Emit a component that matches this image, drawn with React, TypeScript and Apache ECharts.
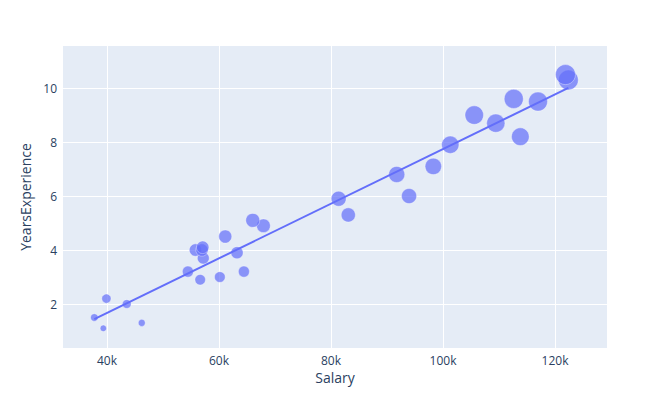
import React, { useEffect, useRef } from "react";
import * as echarts from "echarts";

const yearsExperience = [1.1, 1.3, 1.5, 2.0, 2.2, 2.9, 3.0, 3.2, 3.2, 3.7, 3.9, 4.0, 4.0, 4.1, 4.5, 4.9, 5.1, 5.3, 5.9, 6.0, 6.8, 7.1, 7.9, 8.2, 8.7, 9.0, 9.5, 9.6, 10.3, 10.5];
const salary = [39343, 46205, 37731, 43525, 39891, 56642, 60150, 54445, 64445, 57189, 63218, 55794, 56957, 57081, 61111, 67938, 66029, 83088, 81363, 93940, 91738, 98273, 101302, 113812, 109431, 105582, 116969, 112635, 122391, 121872];
const xTicks = [40000, 60000, 80000, 100000, 120000];
const yTicks = [2, 4, 6, 8, 10];

const FONT = '"Open Sans", verdana, arial, sans-serif';
const BLUE = "#636efa";

function ols(xs: number[], ys: number[]) {
  const n = xs.length;
  const mx = xs.reduce((a, b) => a + b, 0) / n;
  const my = ys.reduce((a, b) => a + b, 0) / n;
  let sxy = 0, sxx = 0;
  for (let i = 0; i < n; i++) {
    sxy += (xs[i] - mx) * (ys[i] - my);
    sxx += (xs[i] - mx) ** 2;
  }
  const b = sxy / sxx;
  return { a: my - b * mx, b };
}

export default function App() {
  const ref = useRef<HTMLDivElement>(null);
  useEffect(() => {
    if (!ref.current) return;
    const chart = echarts.init(ref.current, null, { renderer: "svg" });
    const maxSize = Math.max(...yearsExperience);
    const pts = salary.map((s, i) => [s, yearsExperience[i]]);
    const { a, b } = ols(salary, yearsExperience);
    const xmin = Math.min(...salary);
    const xmax = Math.max(...salary);
    const fit = [
      [xmin, a + b * xmin],
      [xmax, a + b * xmax],
    ];
    chart.setOption({
      animation: false,
      textStyle: { fontFamily: FONT },
      grid: { left: 63, right: 63, top: 46, bottom: 62, show: true, backgroundColor: "#E5ECF6", borderWidth: 0 },
      xAxis: {
        type: "value",
        min: 32140,
        max: 129290,
        name: "Salary",
        nameLocation: "middle",
        nameGap: 19,
        nameTextStyle: { color: "#2a3f5f", fontSize: 14, fontFamily: FONT },
        axisLine: { show: false },
        axisTick: { show: false, customValues: xTicks },
        axisLabel: {
          customValues: xTicks,
          color: "#2a3f5f",
          fontSize: 12,
          fontFamily: FONT,
          margin: 6,
          formatter: (v: number) => `${Math.round(v / 1000)}k`,
        },
        splitLine: { show: true, lineStyle: { color: "#ffffff", width: 1 } },
      },
      yAxis: {
        type: "value",
        min: 0.37,
        max: 11.56,
        name: "YearsExperience",
        nameLocation: "middle",
        nameGap: 29,
        nameRotate: 90,
        nameTextStyle: { color: "#2a3f5f", fontSize: 14, fontFamily: FONT },
        axisLine: { show: false },
        axisTick: { show: false, customValues: yTicks },
        axisLabel: {
          customValues: yTicks,
          color: "#2a3f5f",
          fontSize: 12,
          fontFamily: FONT,
          margin: 6,
        },
        splitLine: { show: true, lineStyle: { color: "#ffffff", width: 1 } },
      },
      series: [
        {
          type: "scatter",
          data: pts,
          symbolSize: (v: number[]) => 20 * Math.sqrt(v[1] / maxSize),
          itemStyle: { color: BLUE, opacity: 0.7, borderColor: "#ffffff", borderWidth: 0.5 },
          z: 2,
        },
        {
          type: "line",
          data: fit,
          showSymbol: false,
          symbol: "none",
          lineStyle: { color: BLUE, width: 2 },
          z: 3,
        },
      ],
    });
    return () => chart.dispose();
  }, []);
  return <div ref={ref} style={{ width: 670, height: 410, position: "absolute", left: 0, top: 0 }} />;
}
